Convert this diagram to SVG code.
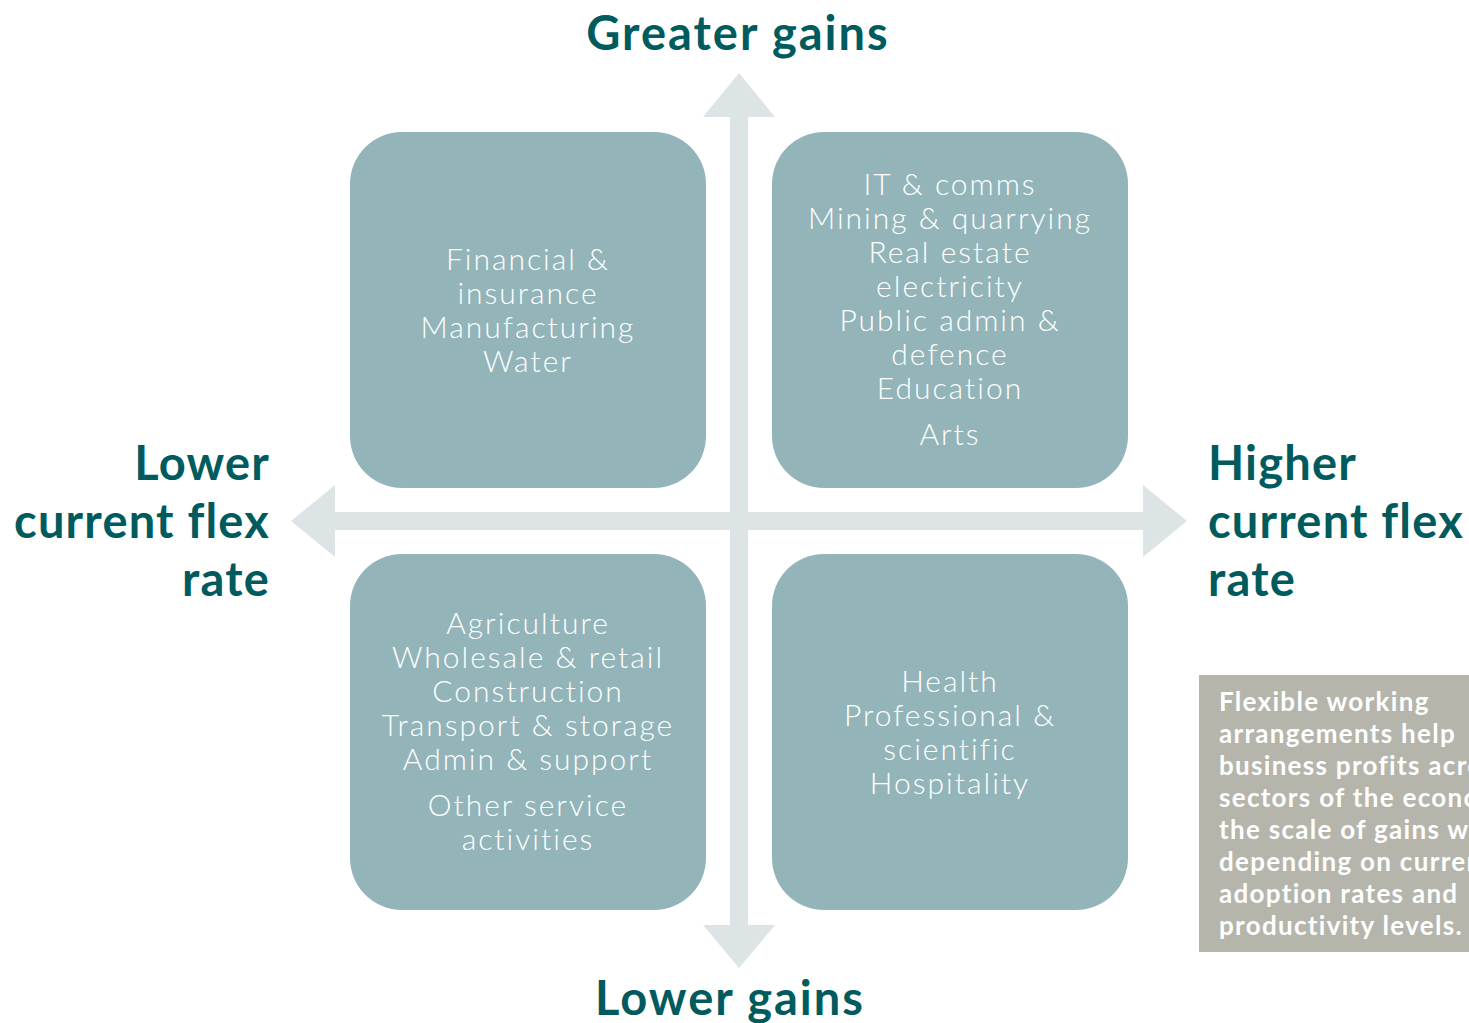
<svg xmlns="http://www.w3.org/2000/svg" width="1469" height="1023" viewBox="0 0 1469 1023">
<style>
.box{fill:#93b5ba}
.bt{font-family:"Lato","Liberation Sans",sans-serif;font-weight:300;font-size:30px;letter-spacing:2px;fill:#ffffff;text-anchor:middle}
.ax{font-family:"Lato","Liberation Sans",sans-serif;font-weight:700;font-size:47px;letter-spacing:2px;fill:#005b5e}
.side{letter-spacing:1.2px}
.note{font-family:"Lato","Liberation Sans",sans-serif;font-weight:700;font-size:26px;letter-spacing:1.3px;fill:#ffffff}
.arr{fill:#dce4e6}
</style>
<rect width="1469" height="1023" fill="#ffffff"/>
<g id="connectors">
<polygon class="arr" points="730,117 703,117 739,73 775,117 748,117 748,512 1143,512 1143,485 1187,521 1143,557 1143,530 748,530 748,925 775,925 739,968 703,925 730,925 730,530 335,530 335,557 291,521 335,485 335,512 730,512"/>
</g>
<g id="q-tl">
<rect class="box" x="350" y="132" width="356" height="356" rx="52"/>
<text class="bt"><tspan x="528" y="270">Financial &amp;</tspan><tspan x="528" y="304">insurance</tspan><tspan x="528" y="338">Manufacturing</tspan><tspan x="528" y="372">Water</tspan></text>
</g>
<g id="q-tr">
<rect class="box" x="772" y="132" width="356" height="356" rx="52"/>
<text class="bt"><tspan x="950" y="195">IT &amp; comms</tspan><tspan x="950" y="229">Mining &amp; quarrying</tspan><tspan x="950" y="263">Real estate</tspan><tspan x="950" y="297">electricity</tspan><tspan x="950" y="331">Public admin &amp;</tspan><tspan x="950" y="365">defence</tspan><tspan x="950" y="399">Education</tspan><tspan x="950" y="445">Arts</tspan></text>
</g>
<g id="q-bl">
<rect class="box" x="350" y="554" width="356" height="356" rx="52"/>
<text class="bt"><tspan x="528" y="634">Agriculture</tspan><tspan x="528" y="668">Wholesale &amp; retail</tspan><tspan x="528" y="702">Construction</tspan><tspan x="528" y="736">Transport &amp; storage</tspan><tspan x="528" y="770">Admin &amp; support</tspan><tspan x="528" y="816">Other service</tspan><tspan x="528" y="850">activities</tspan></text>
</g>
<g id="q-br">
<rect class="box" x="772" y="554" width="356" height="356" rx="52"/>
<text class="bt"><tspan x="950" y="692">Health</tspan><tspan x="950" y="726">Professional &amp;</tspan><tspan x="950" y="760">scientific</tspan><tspan x="950" y="794">Hospitality</tspan></text>
</g>
<g id="label-top"><text class="ax" x="738" y="50" text-anchor="middle">Greater gains</text></g>
<g id="label-bottom"><text class="ax" x="730" y="1015" text-anchor="middle">Lower gains</text></g>
<g id="label-left"><text class="ax side" text-anchor="end"><tspan x="270" y="480">Lower</tspan><tspan x="270" y="538">current flex</tspan><tspan x="270" y="596">rate</tspan></text></g>
<g id="label-right"><text class="ax side"><tspan x="1208" y="480">Higher</tspan><tspan x="1208" y="538">current flex</tspan><tspan x="1208" y="596">rate</tspan></text></g>
<g id="note">
<rect x="1199" y="675" width="270" height="277" fill="#b5b5ab"/>
<text class="note"><tspan x="1219" y="711">Flexible working</tspan><tspan x="1219" y="743">arrangements help</tspan><tspan x="1219" y="775">business profits across</tspan><tspan x="1219" y="807">sectors of the economy,</tspan><tspan x="1219" y="839">the scale of gains will vary</tspan><tspan x="1219" y="871">depending on current</tspan><tspan x="1219" y="903">adoption rates and</tspan><tspan x="1219" y="935">productivity levels.</tspan></text>
</g>
</svg>
